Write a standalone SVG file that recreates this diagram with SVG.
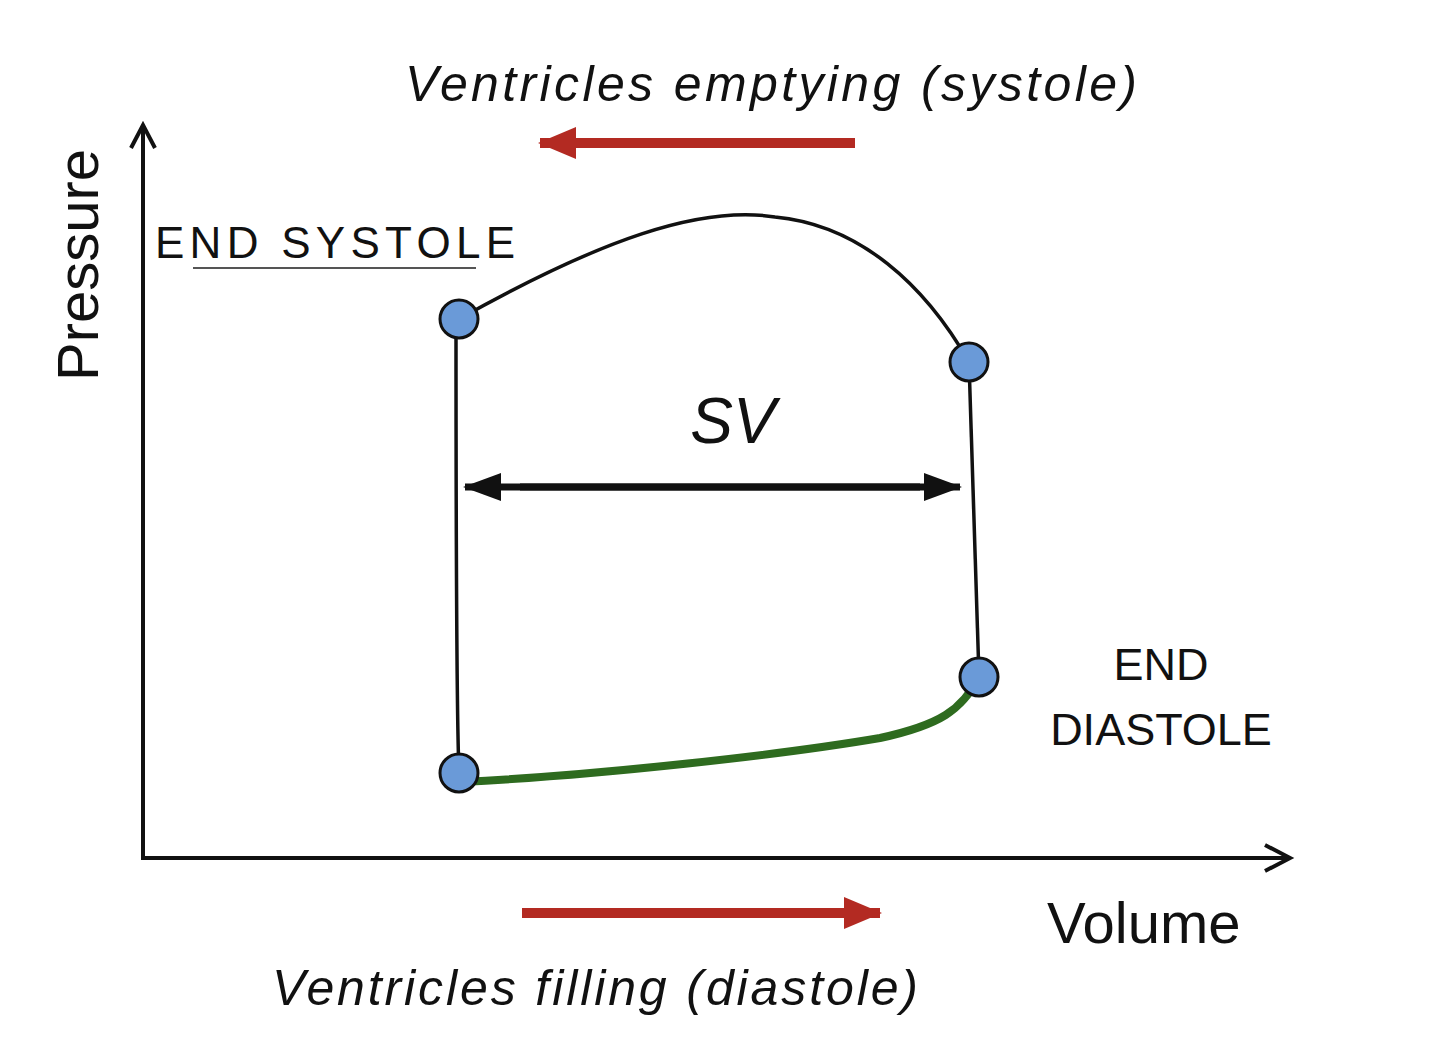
<svg xmlns="http://www.w3.org/2000/svg" width="1440" height="1042" viewBox="0 0 1440 1042">
<style>
text{font-family:"Liberation Sans",Arial,sans-serif;fill:#111}
.pt{fill:#6a9ad8;stroke:#111;stroke-width:3}
</style>
<defs>
<marker id="ax" markerWidth="12" markerHeight="12" refX="10" refY="6" orient="auto" markerUnits="userSpaceOnUse"><path d="M0,-6 L28,6 L0,18" transform="scale(0.45) translate(-4,6)" fill="none" stroke="#111" stroke-width="6"/></marker>
<marker id="red" markerWidth="40" markerHeight="40" refX="36" refY="20" orient="auto" markerUnits="userSpaceOnUse"><path d="M0,4 L38,20 L0,36 Z" fill="#b32a22"/></marker>
<marker id="blk" markerWidth="40" markerHeight="40" refX="36" refY="20" orient="auto" markerUnits="userSpaceOnUse"><path d="M0,6 L38,20 L0,34 Z" fill="#111"/></marker>
</defs>
<rect width="1440" height="1042" fill="#fff"/>
<g id="connectors" fill="none">
<path d="M143,858 V128 M131,148 L143,125 L155,148" stroke="#111" stroke-width="4"/>
<path d="M141,858 H1288 M1265,845 L1290,858 L1265,871" stroke="#111" stroke-width="4"/>
<path d="M855,143 H540" stroke="#b32a22" stroke-width="10" marker-end="url(#red)"/>
<path d="M522,913 H880" stroke="#b32a22" stroke-width="10" marker-end="url(#red)"/>
<path d="M520,487 H960" stroke="#111" stroke-width="7" marker-end="url(#blk)"/>
<path d="M920,487 H465" stroke="#111" stroke-width="7" marker-end="url(#blk)"/>
<path d="M459,319 C600,240 700,205 775,217 C860,225 925,285 969,362" stroke="#111" stroke-width="3.5"/>
<path d="M969,362 L979,677" stroke="#111" stroke-width="3.5"/>
<path d="M456,319 C456,500 456,700 459,773" stroke="#111" stroke-width="3.5"/>
<path d="M462,782 C600,775 780,755 880,738 C940,725 962,710 979,677" stroke="#2e6b1f" stroke-width="8"/>
<line x1="193" y1="268" x2="476" y2="268" stroke="#555" stroke-width="2"/>
</g>
<g id="n1"><circle class="pt" cx="459" cy="319" r="19"/></g>
<g id="n2"><circle class="pt" cx="969" cy="362" r="19"/></g>
<g id="n3"><circle class="pt" cx="979" cy="677" r="19"/></g>
<g id="n4"><circle class="pt" cx="459" cy="773" r="19"/></g>
<g id="labels">
<text x="405" y="101" font-size="50" font-style="italic" textLength="732">Ventricles emptying (systole)</text>
<text x="272" y="1005" font-size="50" font-style="italic" textLength="646">Ventricles filling (diastole)</text>
<text transform="translate(98,265) rotate(-90)" text-anchor="middle" font-size="58">Pressure</text>
<text x="1047" y="943" font-size="58">Volume</text>
<text x="155" y="258" font-size="44" textLength="360">END SYSTOLE</text>
<text x="1161" y="680" font-size="45" text-anchor="middle">END</text>
<text x="1161" y="745" font-size="45" text-anchor="middle">DIASTOLE</text>
<text x="733" y="443" font-size="64" font-style="italic" text-anchor="middle">SV</text>
</g>
</svg>
